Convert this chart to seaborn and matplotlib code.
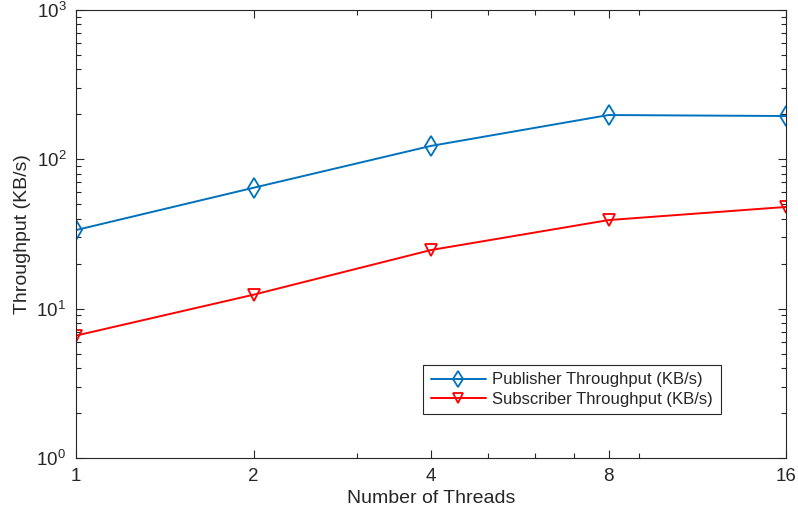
import numpy as np
import pandas as pd
import matplotlib
matplotlib.use("Agg")
import matplotlib.pyplot as plt
import matplotlib.ticker as mticker
import seaborn as sns

threads = [1, 2, 4, 8, 16]
publisher = [33.6, 64.5, 123, 198, 195]
subscriber = [6.6, 12.4, 24.7, 39.2, 48.0]
labels = ["Publisher Throughput (KB/s)", "Subscriber Throughput (KB/s)"]

sns.set_theme(style="ticks")
plt.rcParams["font.family"] = ["Liberation Sans", "DejaVu Sans"]
plt.rcParams["mathtext.default"] = "regular"

fig = plt.figure(figsize=(7.98, 5.13), dpi=100)
ax = fig.add_axes([76/798, 55/513, 710/798, 448/513])

df = pd.DataFrame({
    "Threads": threads * 2,
    "Throughput": publisher + subscriber,
    "Series": [labels[0]] * len(threads) + [labels[1]] * len(threads),
})

colors = ["#0072BD", "#FF0000"]
markers = ["d", "v"]
msizes = [10, 9]
for lab, col, mk, ms in zip(labels, colors, markers, msizes):
    sub = df[df["Series"] == lab]
    sns.lineplot(data=sub, x="Threads", y="Throughput", ax=ax, color=col,
                 marker=mk, markersize=ms, markerfacecolor="none",
                 markeredgecolor=col, markeredgewidth=1.3, linewidth=1.4,
                 label=lab)

ax.set_xscale("log", base=2)
ax.set_yscale("log")
ax.set_xlim(1, 16)
ax.set_ylim(1, 1000)
ax.set_xticks(threads)
ax.set_xticklabels([str(t) for t in threads])
ax.xaxis.set_minor_locator(mticker.FixedLocator([3, 5, 6, 7, 9]))
ax.xaxis.set_minor_formatter(mticker.NullFormatter())
ax.yaxis.set_major_locator(mticker.FixedLocator([1, 10, 100, 1000]))
ax.yaxis.set_major_formatter(mticker.LogFormatterMathtext())
ax.yaxis.set_minor_locator(mticker.LogLocator(base=10, subs=np.arange(2, 10)))
ax.yaxis.set_minor_formatter(mticker.NullFormatter())

axcol = "#262626"
for s in ax.spines.values():
    s.set_color(axcol)
    s.set_linewidth(0.8)
ax.tick_params(which="both", direction="in", top=True, right=True, colors=axcol,
               labelcolor=axcol, labelsize=13.5, width=0.8)
ax.tick_params(which="major", length=6, pad=7)
ax.tick_params(which="minor", length=3.5)

ax.set_xlabel("Number of Threads", fontsize=14, color=axcol, labelpad=4)
ax.set_ylabel("Throughput (KB/s)", fontsize=14, color=axcol, labelpad=4)

leg = ax.legend(loc="lower left", bbox_to_anchor=(0.489, 0.098), fontsize=12,
                frameon=True, fancybox=False, edgecolor="#262626",
                framealpha=1, handlelength=3.3, handletextpad=0.4,
                borderpad=0.45, labelspacing=0.25, borderaxespad=0,
                markerscale=0.85)
leg.get_frame().set_linewidth(0.8)

fig.savefig("out.png", dpi=100)
